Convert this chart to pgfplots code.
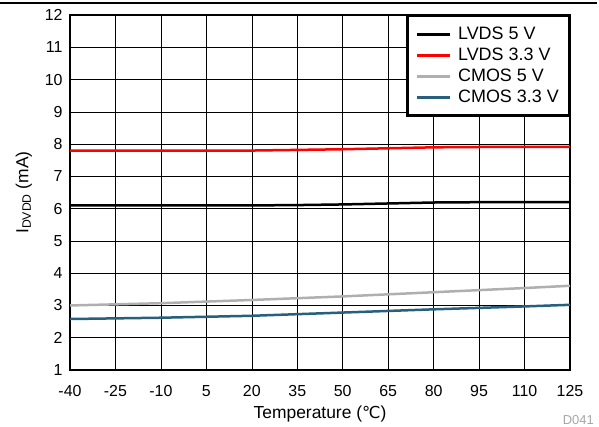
\documentclass[border=0pt]{standalone}
\usepackage{pgfplots}
\pgfplotsset{compat=1.18}
\usepackage{fontspec}
\setmainfont{Liberation Sans}
\newfontfamily\symfont{DejaVu Sans}
\definecolor{teal33}{RGB}{40,95,125}
\definecolor{gray5}{RGB}{175,175,175}
\begin{document}
\begin{tikzpicture}[x=1bp,y=1bp]
\path[use as bounding box] (0,0) rectangle (599,426);
\draw[line width=1.2bp] (0,423) -- (597,423);
\begin{axis}[
  at={(70bp,56bp)}, anchor=south west,
  scale only axis, width=500bp, height=355bp,
  xmin=-40, xmax=125, ymin=1, ymax=12,
  xtick={-40,-25,...,125}, ytick={1,2,...,12},
  grid=major, major grid style={black, line width=0.6bp},
  axis line style={line width=2.5bp},
  tick style={draw=none},
  font=\fontsize{16}{19}\selectfont,
  /pgf/number format/assume math mode=true,
  xticklabel style={yshift=-12bp},
  yticklabel style={xshift=-4bp},
  xlabel={Temperature ({\symfont\fontsize{16.5}{19}\selectfont ℃})},
  ylabel={I\textsubscript{DVDD} (mA)},
  xlabel style={font=\fontsize{17.5}{20}\selectfont, yshift=-2bp},
  ylabel style={font=\fontsize{17.5}{20}\selectfont, yshift=6bp},
  legend style={at={(1,1)}, anchor=north east, draw=black, line width=2.5bp,
    font=\fontsize{18}{21}\selectfont, row sep=3bp, inner xsep=8bp, inner ysep=9bp},
  legend cell align=left,
  legend image code/.code={\draw[#1, line width=2.8bp] (0bp,0bp) -- (33bp,0bp); \path (38bp,0bp);},
]
\addplot[black, line width=2.5bp] coordinates {(-40,6.10) (-10,6.10) (20,6.10) (35,6.11) (50,6.13) (65,6.16) (80,6.19) (95,6.20) (110,6.20) (125,6.20)};
\addlegendentry{LVDS 5 V}
\addplot[red, line width=2.5bp] coordinates {(-40,7.80) (-10,7.80) (20,7.80) (35,7.82) (50,7.84) (65,7.87) (80,7.90) (95,7.91) (110,7.91) (125,7.91)};
\addlegendentry{LVDS 3.3 V}
\addplot[gray5, line width=2.5bp] coordinates {(-40,3.00) (-10,3.07) (20,3.17) (50,3.28) (80,3.41) (110,3.54) (125,3.61)};
\addlegendentry{CMOS 5 V}
\addplot[teal33, line width=2.5bp] coordinates {(-40,2.58) (-10,2.62) (20,2.68) (50,2.78) (80,2.88) (110,2.97) (125,3.02)};
\addlegendentry{CMOS 3.3 V}
\end{axis}
\node[anchor=base east, text=gray!70, font=\fontsize{13}{15}\selectfont, inner sep=0pt] at (594,2) {D041};
\end{tikzpicture}
\end{document}
